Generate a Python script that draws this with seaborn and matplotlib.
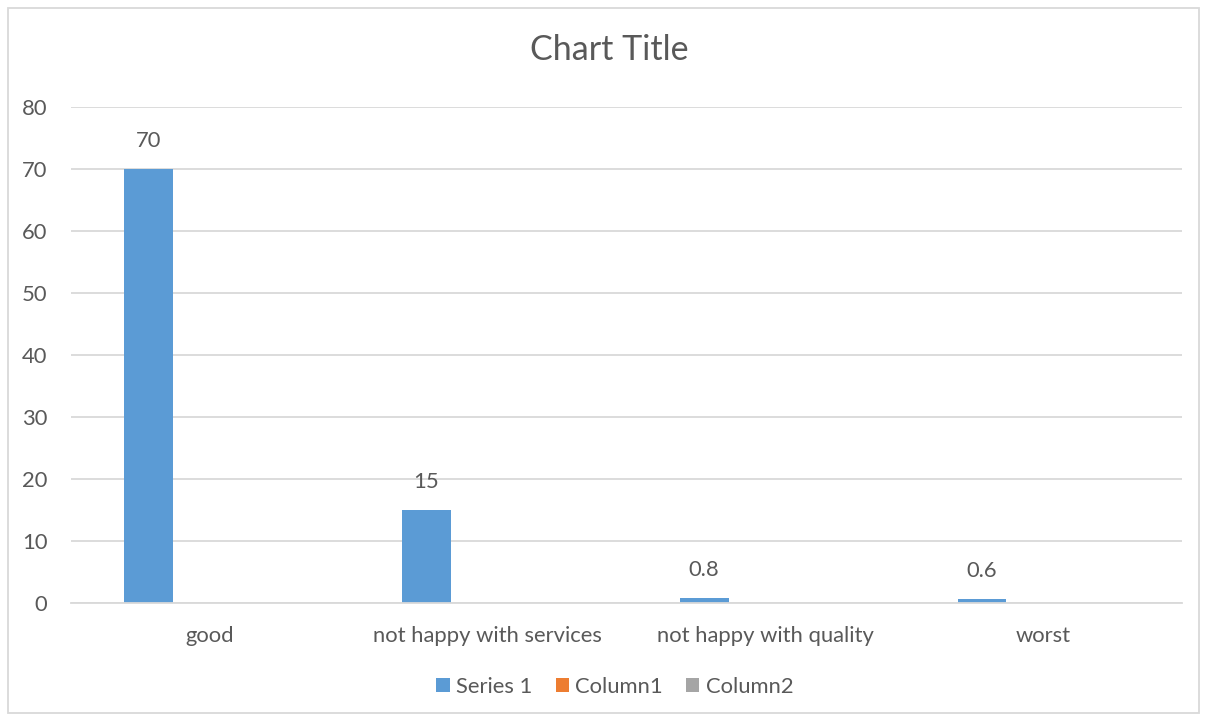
import matplotlib
matplotlib.use("Agg")
import matplotlib.pyplot as plt
import seaborn as sns
import pandas as pd
from matplotlib.patches import Rectangle

categories = ["good", "not happy with services", "not happy with quality", "worst"]
series_names = ["Series 1", "Column1", "Column2"]
series1 = [70, 15, 0.8, 0.6]
column1 = [0, 0, 0, 0]
column2 = [0, 0, 0, 0]
yticks = [0, 10, 20, 30, 40, 50, 60, 70, 80]

colors = ["#5B9BD5", "#ED7D31", "#A5A5A5"]
text_color = "#595959"
grid_color = "#D9D9D9"

rows = []
for name, vals in zip(series_names, [series1, column1, column2]):
    for cat, v in zip(categories, vals):
        rows.append({"category": cat, "series": name, "value": v})
df = pd.DataFrame(rows)

sns.set_theme(style="white")
plt.rcParams["font.family"] = ["Lato", "DejaVu Sans"]

fig = plt.figure(figsize=(12.06, 7.2), dpi=100)
ax = fig.add_axes([71 / 1206, 1 - 602.7 / 720, (1182 - 71) / 1206, (602.7 - 106.7) / 720])

sns.barplot(data=df, x="category", y="value", hue="series",
            order=categories, hue_order=series_names, palette=colors,
            width=0.661, gap=0.205, saturation=1, linewidth=0, ax=ax, legend=True)

ax.set_ylim(0, 80)
ax.set_xlim(-0.5, len(categories) - 0.5)
ax.set_yticks(yticks)
ax.yaxis.grid(True, color=grid_color, linewidth=1.3)
ax.set_axisbelow(True)
for s in ["top", "right", "left"]:
    ax.spines[s].set_visible(False)
ax.spines["bottom"].set_color(grid_color)
ax.spines["bottom"].set_linewidth(1.3)
ax.tick_params(axis="both", length=0, colors=text_color, labelsize=15.8)
ax.tick_params(axis="y", pad=17)
ax.tick_params(axis="x", pad=17)
ax.set_xlabel("")
ax.set_ylabel("")

ax.bar_label(ax.containers[0], labels=[f"{v:g}" for v in series1],
             padding=13, color=text_color, fontsize=15.8)

handles, labels = ax.get_legend_handles_labels()
ax.legend(handles, labels, loc="center", bbox_to_anchor=(615 / 1206, 1 - 687 / 720),
          bbox_transform=fig.transFigure, ncol=3, frameon=False,
          handlelength=0.6, handleheight=0.6, handletextpad=0.3,
          columnspacing=1.05, fontsize=15.8, labelcolor=text_color)

fig.text(609 / 1206, 1 - 50 / 720, "Chart Title", ha="center", va="center",
         fontsize=24.5, color=text_color)

fig.patches.append(Rectangle((7.5 / 1206, 1 - 713 / 720), (1199 - 7.5) / 1206, (713 - 7.5) / 720,
                             transform=fig.transFigure, fill=False,
                             edgecolor=grid_color, linewidth=1.3))

fig.savefig("out.png", dpi=100, facecolor="white")
